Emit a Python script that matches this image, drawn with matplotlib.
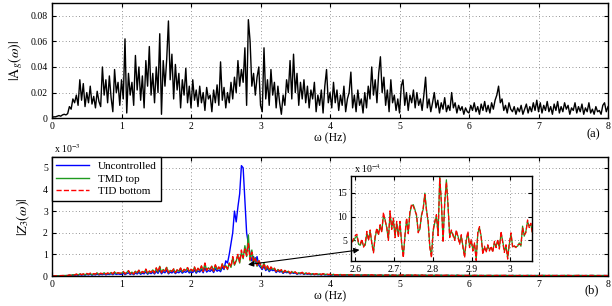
import numpy as np
import matplotlib.pyplot as plt

plt.rcParams['font.family'] = ['Liberation Serif', 'DejaVu Serif']
plt.rcParams['mathtext.fontset'] = 'stix'

# ground acceleration spectrum |Ag|, units of 1e-3, 0..8 Hz step 0.025
a_g = [0.5, 1, 1, 1.5, 2, 1.5, 2.5, 3, 2.5, 3.5, 9, 7, 15, 12, 18, 10, 30, 14, 27, 9,
       20, 12, 25, 11, 17, 8, 21, 13, 9, 40, 18, 30, 12, 33, 16, 5, 38, 20, 28, 10,
       30, 15, 62, 4, 35, 18, 28, 10, 49, 22, 40, 14, 33, 8, 45, 25, 56, 18, 35, 12,
       40, 20, 66, 3, 45, 25, 46, 76, 30, 50, 15, 42, 22, 35, 8, 30, 18, 39, 12, 25,
       8, 30, 14, 22, 9, 25, 12, 20, 6, 24, 15, 18, 5, 22, 12, 26, 10, 44, 14, 24,
       8, 20, 12, 28, 15, 32, 20, 45, 25, 38, 28, 55, 10, 77, 60, 25, 35, 18, 32, 40,
       10, 5, 55, 15, 30, 10, 38, 18, 28, 8, 25, 12, 3, 18, 10, 30, 20, 45, 15, 50,
       20, 35, 10, 28, 15, 30, 12, 25, 8, 22, 15, 28, 5, 18, 10, 22, 4, 25, 38, 12,
       20, 8, 28, 12, 22, 6, 18, 10, 25, 5, 15, 20, 36, 8, 18, 5, 22, 10, 15, 4,
       20, 8, 25, 15, 40, 18, 30, 12, 35, 48, 20, 32, 10, 22, 5, 30, 12, 18, 6, 15,
       4, 25, 30, 10, 20, 6, 18, 12, 22, 8, 20, 10, 15, 6, 18, 32, 8, 15, 5, 12,
       20, 8, 14, 4, 12, 7, 16, 5, 10, 6, 20, 8, 12, 4, 10, 6, 9, 3, 8, 5,
       4, 10, 6, 12, 5, 9, 3, 11, 6, 13, 5, 10, 4, 12, 7, 14, 18, 25, 12, 15,
       6, 10, 4, 12, 7, 5, 9, 3, 8, 5, 10, 3, 7, 11, 4, 9, 5, 12, 6, 14,
       5, 12, 4, 10, 6, 13, 5, 9, 3, 11, 6, 13, 4, 9, 5, 12, 7, 10, 3, 8,
       6, 12, 4, 9, 5, 11, 3, 8, 5, 12, 4, 7, 3, 9, 5, 6, 3, 10, 12, 5, 9]

# |Z3| responses, units of 1e-5, 0..8 Hz step 0.025
z_unc = [0, 0, 0, 1, 1, 1, 1, 1, 2, 2, 3, 2, 4, 3, 5, 3, 6, 4, 6, 4,
         7, 5, 8, 4, 7, 5, 9, 5, 8, 6, 10, 5, 9, 7, 11, 6, 12, 7, 10, 8,
         8, 13, 6, 11, 15, 7, 12, 6, 14, 9, 17, 8, 13, 10, 19, 8, 15, 11, 18, 9,
         22, 12, 28, 10, 20, 15, 26, 10, 18, 14, 22, 11, 19, 15, 24, 13, 21, 17, 25, 14,
         20, 16, 27, 13, 24, 18, 30, 15, 38, 18, 26, 21, 30, 16, 34, 22, 28, 20, 40, 30,
         70, 60, 100, 150, 200, 300, 250, 320, 380, 510, 500, 350, 200, 150, 100, 70, 90, 60, 90, 50,
         40, 30, 45, 25, 35, 20, 30, 25, 28, 16, 25, 18, 22, 12, 20, 15, 18, 10, 16, 12,
         15, 8, 12, 10, 13, 7, 11, 8, 10, 6, 9, 6, 8, 6, 7, 5, 8, 5, 6, 5,
         5, 4, 6, 3, 5, 4, 5, 3, 4, 4, 5, 3, 5, 4, 4, 3, 4, 3, 4, 3,
         4, 3, 4, 3, 4, 3, 4, 2, 3, 4, 3, 2, 4, 3, 3, 2, 4, 2, 3, 2,
         3, 2, 3, 2, 3, 3, 2, 3, 2, 3, 2, 3, 2, 3, 2, 3, 2, 2, 3, 2,
         2, 3, 2, 2, 3, 2, 2, 2, 3, 2, 2, 2, 2, 3, 2, 2, 2, 2, 2, 2,
         2, 2, 1, 2, 2, 2, 1, 2, 2, 2, 1, 2, 2, 2, 2, 1, 2, 2, 2, 1,
         2, 2, 2, 1, 2, 2, 2, 2, 1, 2, 2, 2, 1, 2, 2, 2, 2, 1, 2, 2,
         2, 1, 2, 2, 2, 1, 2, 2, 1, 2, 2, 2, 1, 2, 2, 1, 2, 2, 2, 1,
         2, 2, 1, 2, 2, 2, 1, 2, 2, 1, 2, 2, 2, 1, 2, 2, 1, 2, 2, 2, 1]

z_tmd = [0, 0, 1, 1, 1, 1, 2, 2, 2, 2, 4, 3, 6, 5, 8, 4, 10, 6, 9, 5,
         11, 7, 12, 6, 10, 8, 14, 7, 12, 9, 15, 8, 13, 10, 16, 9, 18, 11, 14, 12,
         12, 20, 9, 16, 24, 10, 18, 8, 22, 14, 26, 12, 20, 15, 30, 11, 22, 16, 28, 13,
         35, 18, 45, 15, 30, 22, 40, 14, 26, 20, 32, 15, 28, 22, 36, 18, 30, 25, 38, 20,
         30, 22, 40, 18, 35, 25, 45, 20, 58, 25, 38, 30, 45, 22, 50, 30, 40, 28, 55, 35,
         48, 30, 60, 40, 85, 50, 70, 95, 60, 110, 80, 140, 90, 190, 70, 120, 60, 85, 45, 70,
         50, 35, 60, 30, 45, 25, 40, 30, 35, 20, 30, 22, 28, 15, 25, 18, 22, 12, 20, 15,
         18, 10, 15, 12, 16, 9, 14, 10, 12, 8, 11, 7, 10, 8, 9, 6, 10, 7, 8, 6,
         7, 5, 8, 4, 6, 5, 7, 4, 6, 5, 6, 4, 7, 5, 5, 4, 6, 3, 5, 4,
         5, 4, 6, 3, 5, 4, 5, 3, 4, 5, 4, 3, 5, 4, 4, 3, 5, 3, 4, 3,
         4, 3, 5, 3, 4, 4, 3, 5, 3, 4, 3, 4, 3, 5, 3, 4, 3, 3, 4, 3,
         3, 4, 3, 3, 4, 2, 3, 3, 4, 2, 3, 3, 2, 4, 3, 2, 3, 3, 2, 3,
         3, 2, 3, 3, 2, 3, 2, 3, 2, 2, 3, 2, 3, 2, 2, 3, 2, 2, 3, 2,
         2, 3, 2, 2, 2, 3, 2, 2, 2, 3, 2, 2, 2, 2, 3, 2, 2, 2, 2, 2,
         2, 2, 2, 3, 2, 2, 2, 2, 3, 2, 2, 2, 2, 2, 2, 3, 2, 2, 2, 2,
         2, 2, 3, 2, 2, 2, 2, 2, 2, 2, 2, 3, 2, 2, 2, 2, 2, 2, 2, 2, 2]

z_tid = [0, 0, 1, 1, 1, 2, 2, 2, 3, 2, 5, 3, 7, 4, 9, 5, 11, 6, 10, 6,
         12, 8, 13, 7, 11, 9, 15, 8, 13, 10, 16, 9, 14, 11, 17, 10, 19, 12, 15, 13,
         13, 21, 10, 17, 25, 11, 19, 9, 23, 15, 27, 13, 21, 16, 32, 12, 23, 17, 30, 14,
         38, 19, 42, 16, 31, 23, 41, 15, 27, 21, 33, 16, 29, 23, 37, 19, 31, 26, 39, 21,
         31, 23, 42, 19, 36, 26, 47, 21, 60, 26, 40, 31, 47, 23, 52, 31, 42, 29, 57, 36,
         50, 32, 58, 42, 90, 55, 75, 100, 65, 120, 85, 125, 95, 150, 75, 110, 65, 80, 50, 75,
         52, 36, 58, 31, 47, 26, 42, 31, 36, 21, 31, 23, 29, 16, 26, 19, 23, 13, 21, 16,
         19, 11, 16, 13, 17, 10, 15, 11, 13, 9, 12, 8, 11, 9, 10, 7, 11, 8, 9, 7,
         8, 5, 7, 5, 6, 4, 8, 4, 5, 5, 7, 4, 6, 5, 6, 4, 5, 4, 6, 3,
         5, 4, 5, 4, 6, 3, 5, 4, 4, 4, 5, 3, 4, 4, 5, 3, 4, 4, 3, 3,
         4, 4, 5, 3, 3, 4, 4, 4, 3, 5, 3, 3, 4, 4, 3, 3, 4, 3, 3, 4,
         3, 3, 4, 3, 3, 3, 3, 4, 3, 2, 3, 2, 3, 3, 3, 2, 2, 3, 3, 2,
         3, 3, 2, 3, 3, 2, 3, 2, 2, 3, 2, 3, 2, 3, 2, 2, 3, 2, 2, 3,
         3, 2, 2, 3, 2, 2, 3, 2, 2, 2, 3, 2, 2, 2, 2, 3, 2, 2, 2, 2,
         2, 2, 3, 2, 2, 2, 3, 2, 2, 2, 2, 3, 2, 2, 2, 2, 2, 3, 2, 2,
         2, 2, 2, 3, 2, 2, 2, 2, 2, 2, 3, 2, 2, 2, 2, 2, 2, 3, 2, 2, 2]

# zoomed window 2.59..3.06 Hz, units of 1e-4
zoom_tmd = [4.9, 4.9, 5.6, 5.9, 4.2, 4.0, 4.9, 3.8, 4.0, 6.6,
            5.2, 6.9, 4.5, 2.6, 5.6, 7.3, 6.3, 8.0, 6.9, 10.1,
            9.4, 7.6, 5.2, 10.8, 7.6, 9.4, 5.9, 8.7, 5.9, 8.7,
            4.5, 1.7, 5.9, 9.4, 6.6, 10.8, 12.2, 12.5, 11.5, 10.1,
            6.9, 7.3, 10.4, 11.5, 14.9, 11.5, 8.7, 3.8, 1.7, 6.9,
            8.7, 10.1, 6.3, 18.4, 12.8, 4.9, 12.8, 17.7, 12.2, 5.9,
            6.9, 6.3, 5.2, 6.9, 5.9, 4.5, 5.9, 3.8, 1.7, 4.9,
            6.6, 3.8, 4.9, 3.1, 4.2, 1.0, 6.6, 7.6, 5.9, 2.4,
            3.5, 2.8, 3.8, 3.1, 3.5, 2.8, 4.5, 3.8, 4.9, 3.5,
            6.6, 4.9, 2.8, 3.8, 1.4, 4.2, 6.3, 3.8, 3.7, 3.7,
            3.8, 4.5, 3.8, 8.0, 5.9, 6.9, 9.0, 8.0, 8.3, 6.6]
zoom_tid = [4.6, 5.4, 6.0, 6.3, 4.5, 4.3, 5.3, 3.6, 4.4, 6.9,
            5.0, 7.2, 4.3, 2.4, 5.9, 7.6, 6.1, 8.3, 6.7, 10.9,
            9.1, 7.9, 5.0, 11.2, 7.3, 9.7, 5.6, 9.0, 5.7, 9.0,
            4.2, 1.4, 6.2, 9.7, 6.4, 11.1, 12.6, 12.2, 11.2, 10.4,
            6.6, 7.6, 10.1, 11.8, 14.6, 11.2, 9.0, 3.5, 1.4, 7.2,
            9.0, 10.4, 6.0, 18.0, 13.1, 4.6, 13.1, 17.2, 12.5, 5.6,
            7.2, 6.0, 5.0, 7.2, 5.6, 4.2, 6.2, 3.5, 1.4, 5.2,
            6.9, 3.5, 5.2, 2.8, 4.5, 0.8, 6.9, 7.9, 5.6, 2.1,
            3.8, 2.5, 4.1, 2.8, 3.8, 2.5, 4.8, 3.5, 5.2, 3.2,
            6.9, 4.6, 2.5, 4.1, 1.1, 4.5, 6.6, 3.5, 3.9, 3.5,
            4.1, 4.2, 4.1, 7.6, 6.2, 6.6, 9.3, 7.7, 8.6, 6.2]

c_unc = '#0000ff'
c_tmd = '#1f9a1f'
c_tid = '#ff0000'

fig = plt.figure(figsize=(6.12, 3.06), dpi=100)
ax1 = fig.add_axes([0.085, 0.614, 0.9085, 0.376])
ax2 = fig.add_axes([0.085, 0.098, 0.9085, 0.389])
axi = fig.add_axes([0.5735, 0.147, 0.2958, 0.278])

def matlab_style(ax):
    ax.tick_params(direction='in', top=True, right=True, labelsize=7, length=3, pad=3)
    ax.grid(True, linestyle=(0, (1, 3)), color='0.45', linewidth=0.6)
    for s in ax.spines.values():
        s.set_linewidth(1.0)

# (a) ground motion
f = np.linspace(0, 8, len(a_g))
ax1.plot(f, np.array(a_g) / 1000, color='k', lw=1.0)
ax1.set_xlim(0, 8)
ax1.set_ylim(0, 0.09)
ax1.set_xticks(range(9))
ax1.set_yticks([0, 0.02, 0.04, 0.06, 0.08])
ax1.set_yticklabels(['0', '0.02', '0.04', '0.06', '0.08'])
ax1.set_xlabel('ω (Hz)', fontsize=8.5, labelpad=1)
ax1.set_ylabel(r'$|\mathrm{A}_g(\omega)|$', fontsize=10)
matlab_style(ax1)

# (b) top floor response
ax2.plot(np.linspace(0, 8, len(z_unc)), np.array(z_unc) / 100, color=c_unc, lw=1.0, label='Uncontrolled')
ax2.plot(np.linspace(0, 8, len(z_tmd)), np.array(z_tmd) / 100, color=c_tmd, lw=1.0, label='TMD top')
ax2.plot(np.linspace(0, 8, len(z_tid)), np.array(z_tid) / 100, color=c_tid, lw=1.0, ls='--', label='TID bottom')
ax2.set_xlim(0, 8)
ax2.set_ylim(0, 5.5)
ax2.set_xticks(range(9))
ax2.set_yticks(range(6))
ax2.set_xlabel('ω (Hz)', fontsize=8.5, labelpad=1)
ax2.set_ylabel(r'$|Z_3(\omega)|$', fontsize=10, labelpad=8)
matlab_style(ax2)
leg = ax2.legend(loc='upper left', fontsize=8, frameon=True, fancybox=False, framealpha=1,
                 edgecolor='k', borderaxespad=0, handlelength=2.9, labelspacing=0.25)
leg.get_frame().set_linewidth(1.0)

# inset
fz = np.linspace(2.5915, 3.0573, len(zoom_tmd))
axi.plot(fz, zoom_tmd, color=c_tmd, lw=0.9)
axi.plot(np.linspace(2.5915, 3.0573, len(zoom_tid)), zoom_tid, color=c_tid, lw=0.9, ls='--')
axi.set_xlim(2.589, 3.056)
axi.set_ylim(0.7, 18.5)
axi.set_xticks([2.6, 2.7, 2.8, 2.9, 3.0])
axi.set_xticklabels(['2.6', '2.7', '2.8', '2.9', '3'])
axi.set_yticks([5, 10, 15])
matlab_style(axi)

axi.annotate('', xy=(2.78, 0.51), xycoords=ax2.transData,
             xytext=(2.618, 3.1), textcoords=axi.transData,
             arrowprops=dict(arrowstyle='<|-|>', color='k', lw=0.8, mutation_scale=8),
             annotation_clip=False)

fig.text(0.088, 0.492, r'x 10$^{-3}$', fontsize=7, ha='left', va='bottom')
fig.text(0.578, 0.428, r'x 10$^{-4}$', fontsize=7, ha='left', va='bottom')
fig.text(0.969, 0.56, '(a)', fontsize=9, ha='center', va='center')
fig.text(0.966, 0.052, '(b)', fontsize=9, ha='center', va='center')

fig.savefig('out.png', dpi=100)
